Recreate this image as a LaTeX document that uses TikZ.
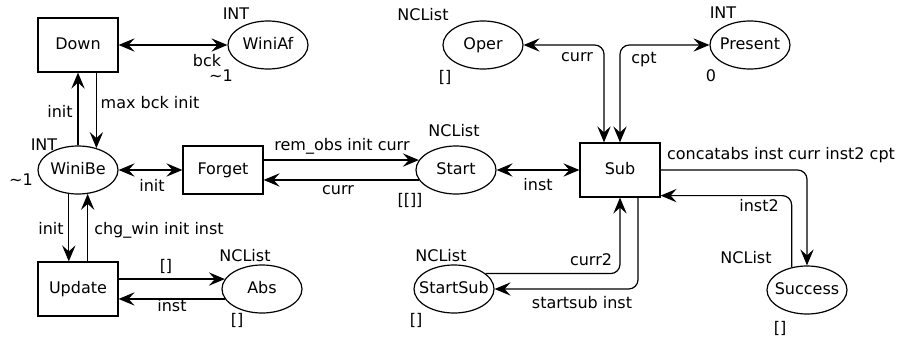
\documentclass[tikz,border=0pt]{standalone}
\usepackage{fontspec}
\setmainfont{DejaVu Sans}
\usetikzlibrary{arrows.meta,shapes.geometric}
\tikzset{
  place/.style={draw,ellipse,minimum width=60pt,minimum height=36pt,inner xsep=-5pt,inner ysep=0pt,text height=8.8pt,text depth=2.4pt},
  trans/.style={draw,rectangle,minimum width=60pt,minimum height=40.5pt,inner sep=0pt,text height=8.8pt,text depth=2.4pt},
  lbl/.style={inner sep=0pt}
}

\begin{document}
\begin{tikzpicture}[x=0.75pt,y=-0.75pt,line width=0.9pt,font=\fontsize{12}{14}\selectfont,>={Stealth[length=12pt,width=10pt,inset=4.5pt]}]
\useasboundingbox (0,0) rectangle (899,339);
\node[trans] (Down) at (78,45) {Down};
\node[trans,minimum height=36pt] (Forget) at (223,170) {Forget};
\node[trans] (Update) at (78,289) {Update};
\node[trans] (Sub) at (620,170) {Sub};
\node[place] (WiniAf) at (268,45) {WiniAf};
\node[place] (WiniBe) at (78,170) {WiniBe};
\node[place] (Start) at (456,170) {Start};
\node[place] (Oper) at (483,45) {Oper};
\node[place] (Present) at (750,45) {Present};
\node[place] (Abs) at (262,289) {Abs};
\node[place] (StartSub) at (454,289) {StartSub};
\node[place] (Success) at (807,290) {Success};
\node[lbl] (typeWiniAf) at (236,14) {INT};
\node[lbl] (markWiniAf) at (221,76) {\textasciitilde1};
\node[lbl] (typeWiniBe) at (44,145) {INT};
\node[lbl] (markWiniBe) at (21,180) {\textasciitilde1};
\node[lbl] (typeStart) at (454,131) {NCList};
\node[lbl] (markStart) at (410,200) {[[]]};
\node[lbl] (typeOper) at (423,15) {NCList};
\node[lbl] (markOper) at (445,77) {[]};
\node[lbl] (typePresent) at (723,13) {INT};
\node[lbl] (markPresent) at (711,76) {0};
\node[lbl] (typeAbs) at (245,256) {NCList};
\node[lbl] (markAbs) at (237,320) {[]};
\node[lbl] (typeStartSub) at (441,256) {NCList};
\node[lbl] (markStartSub) at (416,320) {[]};
\node[lbl] (typeSuccess) at (746,258) {NCList};
\node[lbl] (markSuccess) at (780,328) {[]};
\node[lbl] (bck) at (207,61) {bck};
\node[lbl] (upinit) at (60,111) {init};
\node[lbl] (maxbck) at (150,103) {max bck init};
\node[lbl] (forgetinit) at (152,185) {init};
\node[lbl] (remobs) at (342,146) {rem\_obs init curr};
\node[lbl] (backcurr) at (338,190) {curr};
\node[lbl] (subinst) at (538,185) {inst};
\node[lbl] (opercurr) at (577,57) {curr};
\node[lbl] (cpt) at (644,60) {cpt};
\node[lbl] (curr2) at (591,260) {curr2};
\node[lbl] (startsub) at (582,303) {startsub inst};
\node[lbl] (concat) at (781,155) {concatabs inst curr inst2 cpt};
\node[lbl] (inst2) at (759,206) {inst2};
\node[lbl] (downinit) at (51,228) {init};
\node[lbl] (chgwin) at (159,230) {chg\_win init inst};
\node[lbl] (absempty) at (166,266) {[]};
\node[lbl] (absinst) at (172,306) {inst};
\draw[<->] (Down) -- (WiniAf);
\draw[->] (WiniBe.50 |- Down.south) -- (WiniBe.50);
\draw[->] (WiniBe.north) -- (Down.south);
\draw[<->] (WiniBe) -- (Forget);
\draw[->] (Forget.east |- Start.165) -- (Start.165);
\draw[->] (Start.195) -- (Forget.east |- Start.195);
\draw[<->] (Start) -- (Sub);
\draw[<->,rounded corners=7pt] (Oper.east) -| ([xshift=-12pt]Sub.north);
\draw[<->,rounded corners=7pt] (Present.west) -| (Sub.north);
\draw[->,rounded corners=7pt] ([xshift=13.5pt]Sub.south) |- (StartSub.east);
\draw[->,rounded corners=7pt] (StartSub.26) -| (Sub.south);
\draw[->,rounded corners=7pt] (Sub.east) -| (Success.north);
\draw[->,rounded corners=7pt] (Success.124) |- ([yshift=1.5pt]Sub.south east);
\draw[->] (WiniBe.249) -- (WiniBe.249 |- Update.north);
\draw[->] (Update.north -| WiniBe.292) -- (WiniBe.292);
\draw[->] (Update.east |- Abs.165) -- (Abs.165);
\draw[->] (Abs.195) -- (Update.east |- Abs.195);
\end{tikzpicture}
\end{document}
